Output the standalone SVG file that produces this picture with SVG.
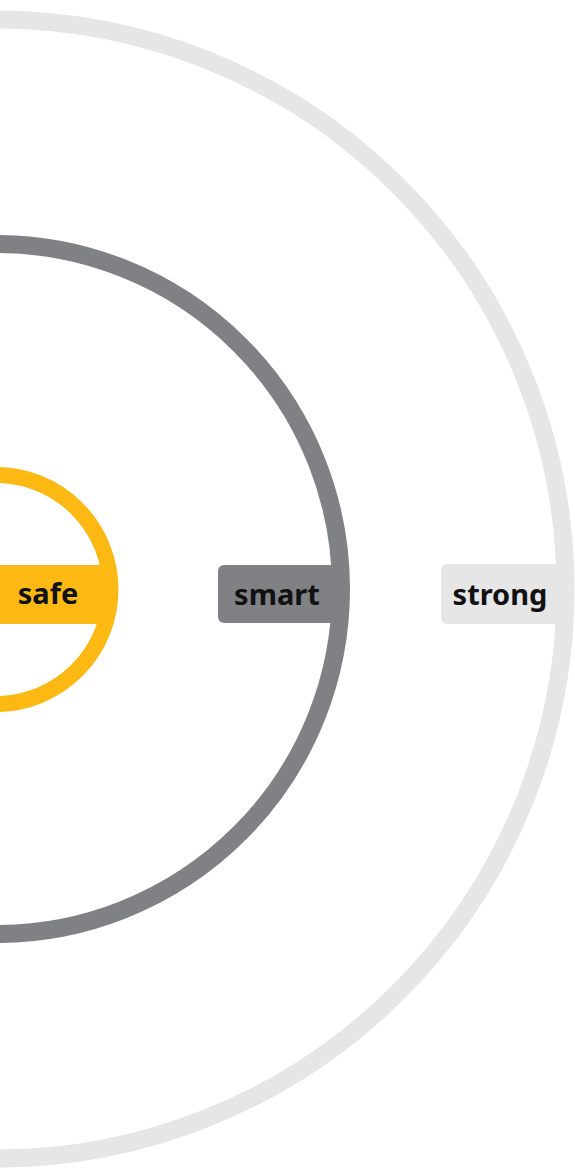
<svg xmlns="http://www.w3.org/2000/svg" width="575" height="1168" viewBox="0 0 575 1168">
<style>
.ring{fill:none}
.lbl{font-family:"Noto Sans","Open Sans","Liberation Sans",sans-serif;font-weight:bold;font-size:29px;fill:#111;text-anchor:middle}
</style>
<rect x="0" y="0" width="575" height="1168" fill="#ffffff"/>
<g id="strong">
<circle class="ring" cx="-4" cy="589" r="569.5" stroke="#e6e6e6" stroke-width="18"/>
<rect x="441" y="564" width="125" height="60" rx="6" fill="#e6e6e6"/>
<text class="lbl" x="500" y="605">strong</text>
</g>
<g id="smart">
<circle class="ring" cx="-4" cy="589" r="345" stroke="#808184" stroke-width="18"/>
<rect x="218" y="565" width="122" height="58" rx="6" fill="#808184"/>
<text class="lbl" x="277" y="605">smart</text>
</g>
<g id="safe">
<circle class="ring" cx="-4" cy="589.5" r="114.5" stroke="#fdb913" stroke-width="16"/>
<rect x="-10" y="565" width="120" height="59" fill="#fdb913"/>
<text class="lbl" x="48" y="604">safe</text>
</g>
</svg>
